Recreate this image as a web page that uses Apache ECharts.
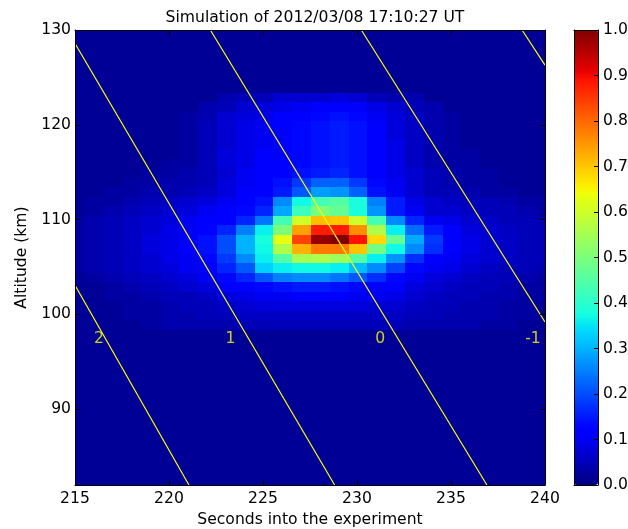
<!DOCTYPE html>
<html>
<head>
<meta charset="utf-8">
<script src="https://cdn.jsdelivr.net/npm/echarts@6/dist/echarts.min.js"></script>
<style>
  html, body { margin: 0; padding: 0; background: #ffffff; }
  #chart { width: 628px; height: 529px; }
</style>
</head>
<body>
<div id="chart"></div>
<script>
// ---- Chart text ----
const chartTitle = 'Simulation of 2012/03/08 17:10:27 UT';
const xAxisTitle = 'Seconds into the experiment';
const yAxisTitle = 'Altitude (km)';

// ---- Axis ranges / ticks ----
const xRange = [215, 240];
const xTickStep = 5;
const yRange = [82, 130];
const yTickStep = 10;
const colorRange = [0, 1];
const colorTickStep = 0.1;

// ---- Simulation grid: cell centres (s, km) ----
const cellSeconds = [215.05, 216.05, 217.05, 218.05, 219.05, 220.05, 221.05, 222.05, 223.05,
  224.05, 225.05, 226.05, 227.05, 228.05, 229.05, 230.05, 231.05, 232.05, 233.05, 234.05,
  235.05, 236.05, 237.05, 238.05, 239.05, 240.05];
const cellAltitudes = [81.9, 82.9, 83.9, 84.9, 85.9, 86.9, 87.9, 88.9, 89.9, 90.9, 91.9, 92.9,
  93.9, 94.9, 95.9, 96.9, 97.9, 98.9, 99.9, 100.9, 101.9, 102.9, 103.9, 104.9, 105.9, 106.9,
  107.9, 108.9, 109.9, 110.9, 111.9, 112.9, 113.9, 114.9, 115.9, 116.9, 117.9, 118.9, 119.9,
  120.9, 121.9, 122.9, 123.9, 124.9, 125.9, 126.9, 127.9, 128.9, 129.9];

// Quiet-sky level of the simulated emission
const backgroundLevel = 0.02;

// Emission layer, one row per altitude (km), from 122.9 km down to 98.9 km
const layerAltitudes = [122.9, 121.9, 120.9, 119.9, 118.9, 117.9, 116.9, 115.9, 114.9, 113.9,
  112.9, 111.9, 110.9, 109.9, 108.9, 107.9, 106.9, 105.9, 104.9, 103.9, 102.9, 101.9, 100.9,
  99.9, 98.9];
const layerIntensity = [
  [.02,.02,.02,.02,.02,.02,.02,.02,.04,.05,.05,.07,.07,.07,.08,.07,.05,.04,.04,.02,.02,.02,.02,.02,.02,.02],
  [.02,.02,.02,.02,.02,.02,.02,.04,.05,.07,.08,.09,.10,.11,.12,.11,.09,.07,.05,.04,.02,.02,.02,.02,.02,.02],
  [.02,.02,.02,.02,.02,.02,.03,.04,.07,.08,.09,.11,.12,.13,.14,.13,.10,.08,.06,.04,.03,.02,.02,.02,.02,.02],
  [.02,.02,.02,.02,.02,.02,.03,.05,.07,.09,.10,.12,.13,.14,.15,.14,.11,.08,.06,.04,.03,.02,.02,.02,.02,.02],
  [.02,.02,.02,.02,.02,.02,.03,.05,.07,.09,.10,.12,.13,.14,.15,.14,.11,.08,.06,.04,.03,.02,.02,.02,.02,.02],
  [.02,.02,.02,.02,.02,.02,.03,.05,.07,.09,.10,.12,.13,.14,.15,.14,.11,.09,.06,.04,.03,.02,.02,.02,.02,.02],
  [.02,.02,.02,.02,.02,.02,.03,.05,.08,.09,.11,.12,.13,.14,.15,.14,.12,.09,.06,.04,.03,.03,.02,.02,.02,.02],
  [.02,.02,.02,.02,.02,.03,.03,.05,.08,.09,.11,.12,.13,.14,.15,.14,.12,.09,.06,.04,.03,.03,.02,.02,.02,.02],
  [.02,.02,.02,.02,.03,.03,.04,.05,.07,.10,.11,.12,.14,.15,.16,.14,.12,.09,.07,.05,.04,.03,.03,.02,.02,.02],
  [.02,.02,.02,.03,.03,.04,.04,.05,.08,.10,.12,.14,.18,.22,.22,.18,.13,.10,.07,.05,.04,.03,.03,.02,.02,.02],
  [.02,.02,.03,.03,.04,.04,.05,.06,.08,.11,.12,.15,.21,.28,.27,.22,.14,.10,.07,.05,.05,.04,.03,.03,.02,.02],
  [.02,.03,.03,.04,.05,.06,.07,.08,.10,.11,.14,.26,.37,.43,.45,.38,.25,.15,.09,.07,.06,.05,.05,.04,.03,.03],
  [.02,.03,.04,.05,.06,.07,.08,.10,.11,.13,.16,.29,.42,.50,.47,.38,.27,.15,.10,.07,.07,.06,.05,.05,.04,.03],
  [.03,.04,.05,.06,.07,.08,.10,.11,.12,.16,.24,.43,.60,.71,.70,.60,.43,.26,.16,.10,.09,.07,.06,.05,.05,.04],
  [.03,.04,.05,.06,.07,.09,.10,.12,.16,.25,.36,.50,.74,.88,.88,.76,.56,.36,.23,.15,.11,.08,.07,.06,.05,.05],
  [.03,.04,.05,.06,.08,.09,.11,.14,.20,.30,.38,.63,.84,.98,1.0,.89,.68,.47,.29,.18,.12,.09,.07,.06,.05,.05],
  [.03,.04,.05,.06,.08,.09,.11,.14,.20,.30,.37,.56,.72,.78,.78,.70,.49,.37,.26,.17,.12,.09,.07,.06,.05,.05],
  [.03,.04,.05,.06,.07,.09,.10,.13,.18,.26,.36,.45,.55,.56,.54,.45,.36,.27,.17,.12,.10,.08,.07,.06,.05,.05],
  [.03,.04,.05,.06,.07,.08,.10,.12,.16,.21,.33,.36,.37,.37,.36,.31,.26,.19,.13,.10,.09,.07,.06,.05,.05,.04],
  [.02,.03,.04,.05,.06,.07,.08,.10,.13,.16,.21,.25,.26,.26,.24,.21,.17,.13,.10,.08,.07,.06,.05,.05,.04,.03],
  [.02,.02,.03,.04,.05,.06,.07,.08,.11,.12,.13,.14,.15,.15,.14,.13,.12,.11,.08,.07,.06,.05,.05,.04,.03,.03],
  [.02,.02,.03,.03,.04,.05,.05,.06,.08,.09,.10,.10,.11,.11,.11,.10,.10,.09,.07,.06,.05,.05,.04,.04,.03,.03],
  [.02,.02,.02,.03,.03,.04,.05,.05,.06,.07,.08,.08,.08,.08,.08,.08,.07,.07,.06,.05,.05,.04,.04,.03,.03,.02],
  [.02,.02,.02,.03,.03,.04,.04,.05,.05,.06,.06,.06,.06,.06,.06,.06,.06,.06,.05,.05,.04,.04,.04,.03,.03,.02],
  [.02,.02,.02,.02,.03,.04,.04,.04,.04,.05,.05,.05,.05,.05,.05,.05,.05,.05,.04,.04,.04,.04,.03,.03,.02,.02]
];

// ---- Reference lines (time offset, s) : start / end points [s, km] ----
const offsetLabels = ['2', '1', '0', '-1', ''];
const offsetLineStart = [[215, 103.07], [215, 128.58], [222.20, 130], [230.23, 130], [238.78, 130]];
const offsetLineEnd = [[221.06, 82], [228.81, 82], [236.91, 82], [240, 99.19], [240, 126.3]];
const offsetLabelPos = [[216.27, 97.46], [223.27, 97.46], [231.24, 97.46], [239.36, 97.46]];

// ---- Jet colour map ----
function jetChannel(pts, v) {
  for (let i = 1; i < pts.length; i++) {
    if (v <= pts[i][0]) {
      const t = (v - pts[i - 1][0]) / (pts[i][0] - pts[i - 1][0]);
      return pts[i - 1][1] + t * (pts[i][1] - pts[i - 1][1]);
    }
  }
  return pts[pts.length - 1][1];
}
function jet(v) {
  const r = jetChannel([[0, 0], [0.35, 0], [0.66, 1], [0.89, 1], [1, 0.5]], v);
  const g = jetChannel([[0, 0], [0.125, 0], [0.375, 1], [0.64, 1], [0.91, 0], [1, 0]], v);
  const b = jetChannel([[0, 0.5], [0.11, 1], [0.34, 1], [0.65, 0], [1, 0]], v);
  return 'rgb(' + Math.round(r * 255) + ',' + Math.round(g * 255) + ',' + Math.round(b * 255) + ')';
}
const jetColors = [];
for (let i = 0; i <= 200; i++) jetColors.push(jet(i / 200));

// ---- Build cell list ----
const cells = [];
cellAltitudes.forEach(function (alt) {
  const li = layerAltitudes.findIndex(function (a) { return Math.abs(a - alt) < 1e-6; });
  cellSeconds.forEach(function (sec, ci) {
    const v = li >= 0 ? layerIntensity[li][ci] : backgroundLevel;
    cells.push([sec, alt, v]);
  });
});

const lineSeries = offsetLineStart.map(function (p, i) {
  return {
    type: 'line',
    xAxisIndex: 0, yAxisIndex: 0,
    data: [p, offsetLineEnd[i]],
    showSymbol: false, symbol: 'none',
    clip: true, silent: true, z: 5,
    lineStyle: { color: '#ffff00', width: 1.2 }
  };
});

const FONT = 'DejaVu Sans';
const FS = 15.6;

const chart = echarts.init(document.getElementById('chart'), null, { renderer: 'canvas' });
chart.setOption({
  animation: false,
  backgroundColor: '#ffffff',
  textStyle: { fontFamily: FONT },
  title: {
    text: chartTitle,
    left: 310, top: 5, textAlign: 'center',
    textStyle: { fontFamily: FONT, fontSize: FS, fontWeight: 'normal', color: '#000' }
  },
  grid: [
    { left: 75, top: 30, width: 470, height: 455, show: false, outerBoundsMode: 'none', containLabel: false },
    { left: 574, top: 30, width: 24, height: 455, show: false, outerBoundsMode: 'none', containLabel: false }
  ],
  xAxis: [
    {
      type: 'value', gridIndex: 0, position: 'bottom', min: xRange[0], max: xRange[1], interval: xTickStep,
      name: xAxisTitle, nameLocation: 'middle', nameGap: 24,
      nameTextStyle: { fontFamily: FONT, fontSize: FS, color: '#000' },
      axisLine: { show: true, onZero: false, lineStyle: { color: '#000', width: 1 } },
      axisTick: { show: true, inside: true, length: 5, lineStyle: { color: '#000' } },
      axisLabel: { show: true, margin: 6, fontFamily: FONT, fontSize: FS, color: '#000' },
      splitLine: { show: false }, z: 10
    },
    {
      type: 'value', gridIndex: 0, position: 'top', min: xRange[0], max: xRange[1], interval: xTickStep,
      axisLine: { show: true, onZero: false, lineStyle: { color: '#000', width: 1 } },
      axisTick: { show: true, inside: true, length: 5, lineStyle: { color: '#000' } },
      axisLabel: { show: false }, splitLine: { show: false }, z: 10
    },
    {
      type: 'value', gridIndex: 1, position: 'bottom', min: 0, max: 1,
      axisLine: { show: true, onZero: false, lineStyle: { color: '#000', width: 1 } },
      axisTick: { show: false }, axisLabel: { show: false }, splitLine: { show: false }, z: 10
    },
    {
      type: 'value', gridIndex: 1, position: 'top', min: 0, max: 1,
      axisLine: { show: true, onZero: false, lineStyle: { color: '#000', width: 1 } },
      axisTick: { show: false }, axisLabel: { show: false }, splitLine: { show: false }, z: 10
    }
  ],
  yAxis: [
    {
      type: 'value', gridIndex: 0, position: 'left', min: yRange[0], max: yRange[1],
      minInterval: yTickStep, maxInterval: yTickStep,
      name: yAxisTitle, nameLocation: 'middle', nameGap: 45, nameRotate: 90,
      nameTextStyle: { fontFamily: FONT, fontSize: FS, color: '#000' },
      axisLine: { show: true, onZero: false, lineStyle: { color: '#000', width: 1 } },
      axisTick: { show: true, inside: true, length: 5, lineStyle: { color: '#000' } },
      axisLabel: {
        show: true, margin: 4, fontFamily: FONT, fontSize: FS, color: '#000',
        showMinLabel: false,
        formatter: function (v) { return v % yTickStep === 0 ? String(v) : ''; }
      },
      splitLine: { show: false }, z: 10
    },
    {
      type: 'value', gridIndex: 0, position: 'right', min: yRange[0], max: yRange[1],
      minInterval: yTickStep, maxInterval: yTickStep,
      axisLine: { show: true, onZero: false, lineStyle: { color: '#000', width: 1 } },
      axisTick: { show: true, inside: true, length: 5, lineStyle: { color: '#000' } },
      axisLabel: { show: false }, splitLine: { show: false }, z: 10
    },
    {
      type: 'value', gridIndex: 1, position: 'right', min: colorRange[0], max: colorRange[1], interval: colorTickStep,
      axisLine: { show: true, onZero: false, lineStyle: { color: '#000', width: 1 } },
      axisTick: { show: true, inside: true, length: 4, lineStyle: { color: '#000' } },
      axisLabel: {
        show: true, margin: 5, fontFamily: FONT, fontSize: FS, color: '#000',
        formatter: function (v) { return v.toFixed(1); }
      },
      splitLine: { show: false }, z: 10
    },
    {
      type: 'value', gridIndex: 1, position: 'left', min: colorRange[0], max: colorRange[1],
      axisLine: { show: true, onZero: false, lineStyle: { color: '#000', width: 1 } },
      axisTick: { show: false }, axisLabel: { show: false }, splitLine: { show: false }, z: 10
    }
  ],
  visualMap: {
    type: 'continuous',
    min: colorRange[0], max: colorRange[1],
    dimension: 2, seriesIndex: 0,
    calculable: false, hoverLink: false,
    orient: 'vertical',
    left: 574, top: 30,
    itemWidth: 24, itemHeight: 455,
    padding: 0, text: null, showLabel: false,
    inRange: { color: jetColors }
  },
  series: [
    {
      type: 'custom',
      xAxisIndex: 0, yAxisIndex: 0,
      clip: true, silent: true, z: 1,
      data: cells,
      encode: { x: 0, y: 1 },
      renderItem: function (params, api) {
        const x = api.value(0), y = api.value(1);
        const p0 = api.coord([x - 0.5, y + 0.5]);
        const p1 = api.coord([x + 0.5, y - 0.5]);
        const x0 = Math.round(p0[0]), y0 = Math.round(p0[1]);
        const x1 = Math.round(p1[0]), y1 = Math.round(p1[1]);
        const shape = echarts.graphic.clipRectByRect(
          { x: x0, y: y0, width: x1 - x0, height: y1 - y0 },
          { x: params.coordSys.x, y: params.coordSys.y, width: params.coordSys.width, height: params.coordSys.height }
        );
        if (!shape) return null;
        return { type: 'rect', shape: shape, style: { fill: api.visual('color') } };
      }
    }
  ].concat(lineSeries).concat([
    {
      type: 'scatter',
      xAxisIndex: 0, yAxisIndex: 0,
      silent: true, z: 6,
      symbolSize: 1,
      itemStyle: { color: 'rgba(0,0,0,0)' },
      data: offsetLabelPos.map(function (p, i) { return [p[0], p[1], offsetLabels[i]]; }),
      label: {
        show: true, position: 'inside',
        formatter: function (p) { return p.value[2]; },
        fontFamily: FONT, fontSize: FS, color: '#ffff00'
      }
    }
  ])
});
</script>
</body>
</html>
